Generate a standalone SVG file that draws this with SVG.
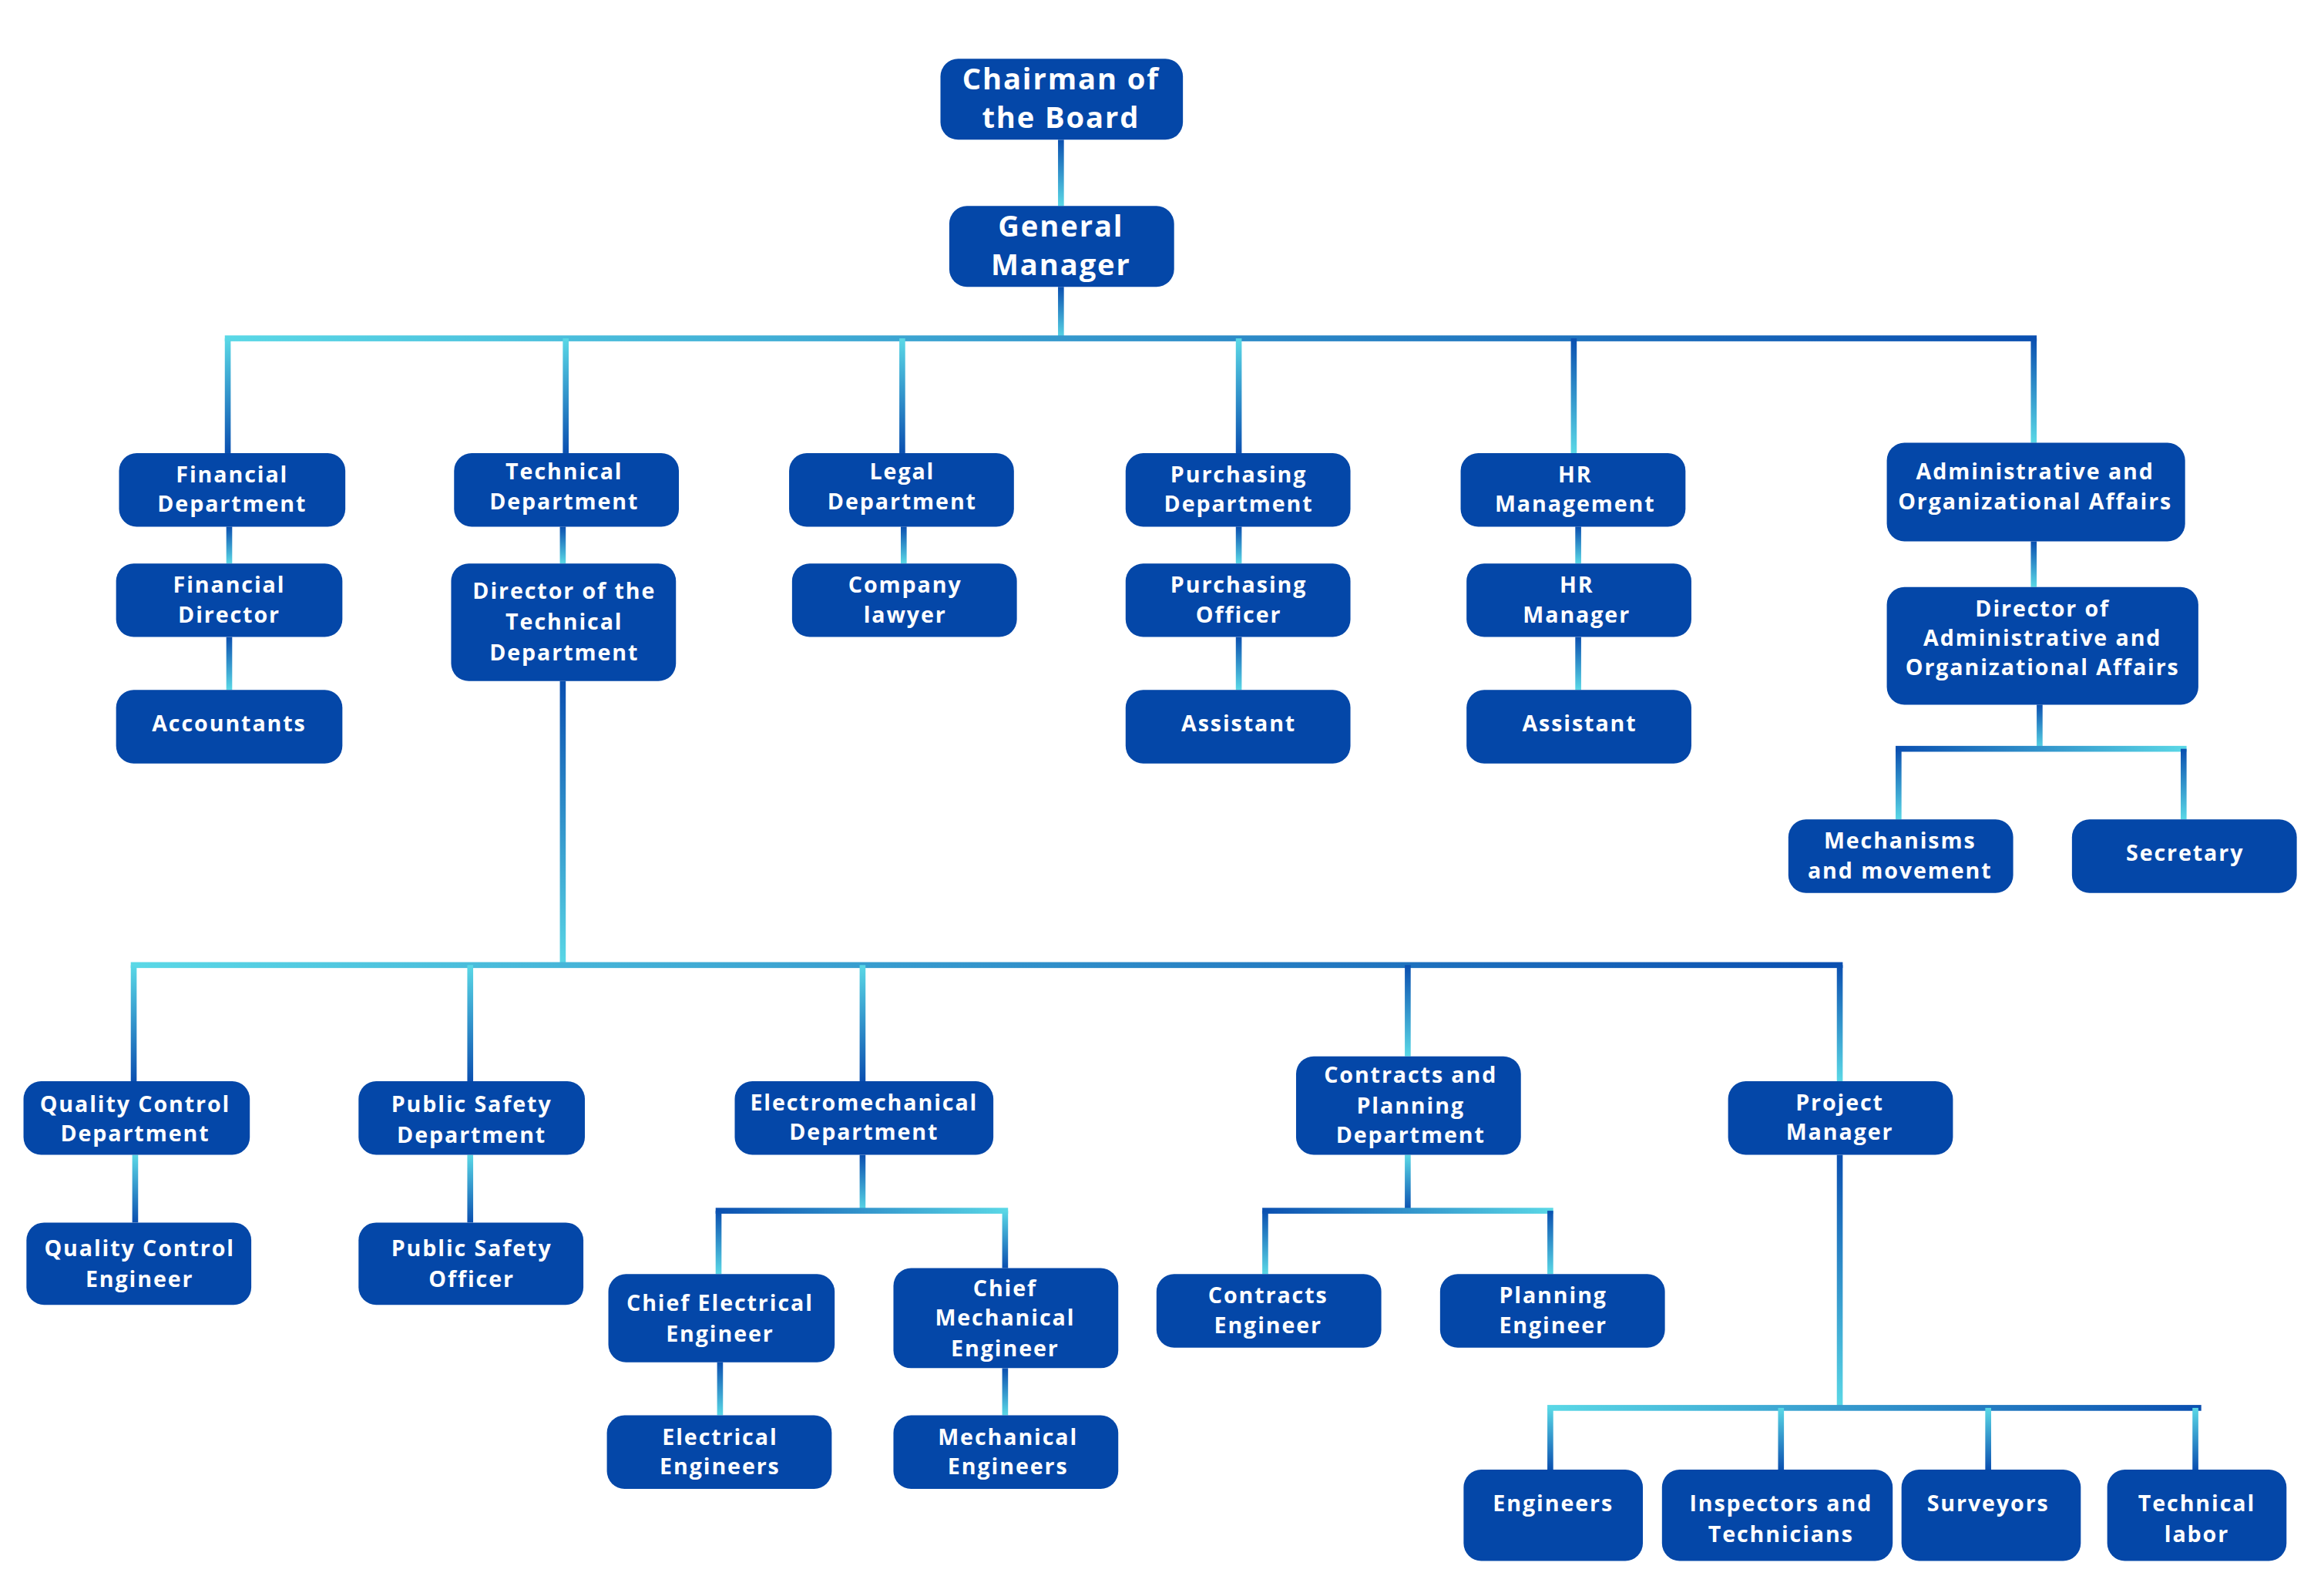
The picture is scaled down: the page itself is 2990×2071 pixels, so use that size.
<svg xmlns="http://www.w3.org/2000/svg" width="2990" height="2071" viewBox="0 0 2990 2071">
<defs>
<linearGradient id="gd" x1="0" y1="0" x2="0" y2="1"><stop offset="0" stop-color="#0a4fb0"/><stop offset="1" stop-color="#5ad8e6"/></linearGradient>
<linearGradient id="gu" x1="0" y1="0" x2="0" y2="1"><stop offset="0" stop-color="#5ad8e6"/><stop offset="1" stop-color="#0a4fb0"/></linearGradient>
<linearGradient id="gh" x1="0" y1="0" x2="1" y2="0"><stop offset="0" stop-color="#5ad8e6"/><stop offset="1" stop-color="#0a4fb0"/></linearGradient>
<linearGradient id="gr" x1="0" y1="0" x2="1" y2="0"><stop offset="0" stop-color="#0a4fb0"/><stop offset="1" stop-color="#5ad8e6"/></linearGradient>
</defs>
<style>
.b{fill:#0447a8}
text{fill:#fff;font-family:"Open Sans","Liberation Sans",sans-serif;font-weight:700;font-size:15px;letter-spacing:1px;text-anchor:middle}
.big{font-size:20px}
</style>
<rect width="2990" height="2071" fill="#fff"/>
<g transform="scale(1.907,1.909)">
<g id="connectors">
<rect x="720" y="95" width="4" height="45" fill="url(#gd)"/>
<rect x="720" y="195" width="4" height="35" fill="url(#gd)"/>
<rect x="153" y="228" width="1233" height="4" fill="url(#gh)"/>
<rect x="153" y="230" width="4" height="78" fill="url(#gu)"/>
<rect x="383" y="230" width="4" height="78" fill="url(#gu)"/>
<rect x="612" y="230" width="4" height="78" fill="url(#gu)"/>
<rect x="841" y="230" width="4" height="78" fill="url(#gu)"/>
<rect x="1069" y="230" width="4" height="78" fill="url(#gd)"/>
<rect x="1382" y="230" width="4" height="71" fill="url(#gd)"/>
<rect x="154" y="358" width="4" height="25" fill="url(#gd)"/>
<rect x="154" y="433" width="4" height="36" fill="url(#gd)"/>
<rect x="381" y="358" width="4" height="25" fill="url(#gd)"/>
<rect x="613" y="358" width="4" height="25" fill="url(#gd)"/>
<rect x="841" y="358" width="4" height="25" fill="url(#gd)"/>
<rect x="841" y="433" width="4" height="36" fill="url(#gd)"/>
<rect x="1072" y="358" width="4" height="25" fill="url(#gd)"/>
<rect x="1072" y="433" width="4" height="36" fill="url(#gd)"/>
<rect x="1382" y="368" width="4" height="31" fill="url(#gd)"/>
<rect x="1386" y="479" width="4" height="30" fill="url(#gd)"/>
<rect x="1290" y="507" width="198" height="4" fill="url(#gr)"/>
<rect x="1290" y="509" width="4" height="48" fill="url(#gd)"/>
<rect x="1484" y="509" width="4" height="48" fill="url(#gd)"/>
<rect x="381" y="463" width="4" height="193" fill="url(#gd)"/>
<rect x="89" y="654" width="1165" height="4" fill="url(#gh)"/>
<rect x="89" y="656" width="4" height="79" fill="url(#gu)"/>
<rect x="318" y="656" width="4" height="79" fill="url(#gu)"/>
<rect x="585" y="656" width="4" height="79" fill="url(#gu)"/>
<rect x="956" y="656" width="4" height="62" fill="url(#gd)"/>
<rect x="1250" y="656" width="4" height="79" fill="url(#gd)"/>
<rect x="90" y="785" width="4" height="46" fill="url(#gu)"/>
<rect x="318" y="785" width="4" height="46" fill="url(#gu)"/>
<rect x="585" y="785" width="4" height="38" fill="url(#gd)"/>
<rect x="487" y="821" width="199" height="4" fill="url(#gr)"/>
<rect x="487" y="823" width="4" height="43" fill="url(#gd)"/>
<rect x="682" y="823" width="4" height="39" fill="url(#gu)"/>
<rect x="488" y="926" width="4" height="36" fill="url(#gd)"/>
<rect x="682" y="930" width="4" height="32" fill="url(#gd)"/>
<rect x="956" y="785" width="4" height="38" fill="url(#gu)"/>
<rect x="859" y="821" width="198" height="4" fill="url(#gr)"/>
<rect x="859" y="823" width="4" height="43" fill="url(#gd)"/>
<rect x="1053" y="823" width="4" height="43" fill="url(#gd)"/>
<rect x="1250" y="785" width="4" height="172" fill="url(#gd)"/>
<rect x="1053" y="955" width="445" height="4" fill="url(#gh)"/>
<rect x="1053" y="957" width="4" height="42" fill="url(#gu)"/>
<rect x="1210" y="957" width="4" height="42" fill="url(#gu)"/>
<rect x="1351" y="957" width="4" height="42" fill="url(#gu)"/>
<rect x="1492" y="957" width="4" height="42" fill="url(#gu)"/>
</g>
<g id="chairman"><rect class="b" x="640" y="40" width="165" height="55" rx="12"/><text class="big" x="722" y="61">Chairman of</text><text class="big" x="722" y="87">the Board</text></g>
<g id="gm"><rect class="b" x="646" y="140" width="153" height="55" rx="12"/><text class="big" x="722" y="161">General</text><text class="big" x="722" y="187">Manager</text></g>
<g id="fin-dept"><rect class="b" x="81" y="308" width="154" height="50" rx="12"/><text x="158" y="328">Financial</text><text x="158" y="348">Department</text></g>
<g id="tech-dept"><rect class="b" x="309" y="308" width="153" height="50" rx="12"/><text x="384" y="326">Technical</text><text x="384" y="346">Department</text></g>
<g id="legal-dept"><rect class="b" x="537" y="308" width="153" height="50" rx="12"/><text x="614" y="326">Legal</text><text x="614" y="346">Department</text></g>
<g id="purch-dept"><rect class="b" x="766" y="308" width="153" height="50" rx="12"/><text x="843" y="328">Purchasing</text><text x="843" y="348">Department</text></g>
<g id="hr-mgmt"><rect class="b" x="994" y="308" width="153" height="50" rx="12"/><text x="1072" y="328">HR</text><text x="1072" y="348">Management</text></g>
<g id="admin"><rect class="b" x="1284" y="301" width="203" height="67" rx="12"/><text x="1385" y="326">Administrative and</text><text x="1385" y="346">Organizational Affairs</text></g>
<g id="fin-director"><rect class="b" x="79" y="383" width="154" height="50" rx="12"/><text x="156" y="403">Financial</text><text x="156" y="423">Director</text></g>
<g id="accountants"><rect class="b" x="79" y="469" width="154" height="50" rx="12"/><text x="156" y="497">Accountants</text></g>
<g id="tech-director"><rect class="b" x="307" y="383" width="153" height="80" rx="12"/><text x="384" y="407">Director of the</text><text x="384" y="428">Technical</text><text x="384" y="449">Department</text></g>
<g id="lawyer"><rect class="b" x="539" y="383" width="153" height="50" rx="12"/><text x="616" y="403">Company</text><text x="616" y="423">lawyer</text></g>
<g id="purch-officer"><rect class="b" x="766" y="383" width="153" height="50" rx="12"/><text x="843" y="403">Purchasing</text><text x="843" y="423">Officer</text></g>
<g id="purch-assistant"><rect class="b" x="766" y="469" width="153" height="50" rx="12"/><text x="843" y="497">Assistant</text></g>
<g id="hr-manager"><rect class="b" x="998" y="383" width="153" height="50" rx="12"/><text x="1073" y="403">HR</text><text x="1073" y="423">Manager</text></g>
<g id="hr-assistant"><rect class="b" x="998" y="469" width="153" height="50" rx="12"/><text x="1075" y="497">Assistant</text></g>
<g id="admin-director"><rect class="b" x="1284" y="399" width="212" height="80" rx="12"/><text x="1390" y="419">Director of</text><text x="1390" y="439">Administrative and</text><text x="1390" y="459">Organizational Affairs</text></g>
<g id="mechanisms"><rect class="b" x="1217" y="557" width="153" height="50" rx="12"/><text x="1293" y="577">Mechanisms</text><text x="1293" y="597">and movement</text></g>
<g id="secretary"><rect class="b" x="1410" y="557" width="153" height="50" rx="12"/><text x="1487" y="585">Secretary</text></g>
<g id="qc-dept"><rect class="b" x="16" y="735" width="154" height="50" rx="12"/><text x="92" y="756">Quality Control</text><text x="92" y="776">Department</text></g>
<g id="ps-dept"><rect class="b" x="244" y="735" width="154" height="50" rx="12"/><text x="321" y="756">Public Safety</text><text x="321" y="777">Department</text></g>
<g id="em-dept"><rect class="b" x="500" y="735" width="176" height="50" rx="12"/><text x="588" y="755">Electromechanical</text><text x="588" y="775">Department</text></g>
<g id="cp-dept"><rect class="b" x="882" y="718" width="153" height="67" rx="12"/><text x="960" y="736">Contracts and</text><text x="960" y="757">Planning</text><text x="960" y="777">Department</text></g>
<g id="pm"><rect class="b" x="1176" y="735" width="153" height="50" rx="12"/><text x="1252" y="755">Project</text><text x="1252" y="775">Manager</text></g>
<g id="qc-eng"><rect class="b" x="18" y="831" width="153" height="56" rx="12"/><text x="95" y="854">Quality Control</text><text x="95" y="875">Engineer</text></g>
<g id="ps-officer"><rect class="b" x="244" y="831" width="153" height="56" rx="12"/><text x="321" y="854">Public Safety</text><text x="321" y="875">Officer</text></g>
<g id="chief-elec"><rect class="b" x="414" y="866" width="154" height="60" rx="12"/><text x="490" y="891">Chief Electrical</text><text x="490" y="912">Engineer</text></g>
<g id="chief-mech"><rect class="b" x="608" y="862" width="153" height="68" rx="12"/><text x="684" y="881">Chief</text><text x="684" y="901">Mechanical</text><text x="684" y="922">Engineer</text></g>
<g id="elec-eng"><rect class="b" x="413" y="962" width="153" height="50" rx="12"/><text x="490" y="982">Electrical</text><text x="490" y="1002">Engineers</text></g>
<g id="mech-eng"><rect class="b" x="608" y="962" width="153" height="50" rx="12"/><text x="686" y="982">Mechanical</text><text x="686" y="1002">Engineers</text></g>
<g id="contracts-eng"><rect class="b" x="787" y="866" width="153" height="50" rx="12"/><text x="863" y="886">Contracts</text><text x="863" y="906">Engineer</text></g>
<g id="planning-eng"><rect class="b" x="980" y="866" width="153" height="50" rx="12"/><text x="1057" y="886">Planning</text><text x="1057" y="906">Engineer</text></g>
<g id="engineers"><rect class="b" x="996" y="999" width="122" height="62" rx="12"/><text x="1057" y="1027">Engineers</text></g>
<g id="inspectors"><rect class="b" x="1131" y="999" width="157" height="62" rx="12"/><text x="1212" y="1027">Inspectors and</text><text x="1212" y="1048">Technicians</text></g>
<g id="surveyors"><rect class="b" x="1294" y="999" width="122" height="62" rx="12"/><text x="1353" y="1027">Surveyors</text></g>
<g id="labor"><rect class="b" x="1434" y="999" width="122" height="62" rx="12"/><text x="1495" y="1027">Technical</text><text x="1495" y="1048">labor</text></g>
</g>
</svg>
